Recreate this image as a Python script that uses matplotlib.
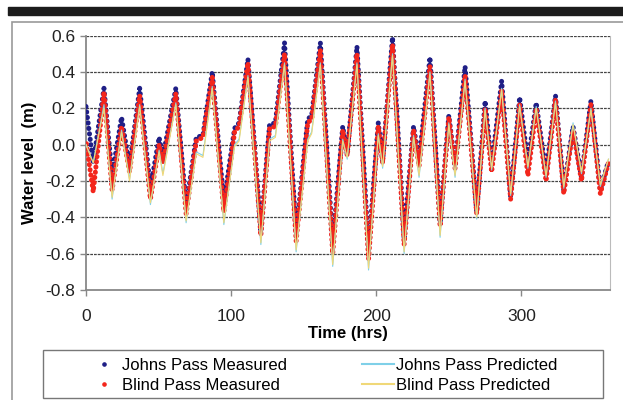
import numpy as np
import matplotlib
matplotlib.use("Agg")
import matplotlib.pyplot as plt
from matplotlib.patches import Rectangle
from matplotlib.lines import Line2D

plt.rcParams['font.family'] = 'Liberation Sans'
plt.rcParams['axes.unicode_minus'] = False

# tide turning points (hrs)
t_hrs = [0, 5, 12.4, 18, 24.5, 30, 37, 44.4, 50.4, 53, 61.9, 69, 76, 80.6, 87, 95,
         102.4, 105.5, 111.6, 120.5, 126.5, 130.5, 136.8, 144.8, 152.8, 155.5, 161.5,
         170, 176.9, 180, 186.7, 194.7, 201.4, 204.4, 211.2, 219.2, 225.7, 229.5, 237,
         244, 250, 254.3, 261.2, 269.2, 275, 279.5, 286.4, 292.6, 298.8, 304.5, 310.2,
         317, 323.5, 329.2, 335.6, 341.4, 347.9, 354.4, 360]

johns_meas = [0.21, -0.10, 0.31, -0.17, 0.15, -0.12, 0.31, -0.24, 0.04, -0.07, 0.31, -0.34,
              0.04, 0.05, 0.40, -0.32, 0.09, 0.12, 0.47, -0.47, 0.11, 0.12, 0.56, -0.49,
              0.14, 0.16, 0.56, -0.55, 0.10, -0.05, 0.54, -0.58, 0.12, -0.09, 0.59, -0.51,
              0.10, -0.09, 0.48, -0.43, 0.16, -0.12, 0.43, -0.37, 0.24, -0.12, 0.35, -0.29,
              0.26, -0.10, 0.23, -0.16, 0.27, -0.25, 0.10, -0.18, 0.24, -0.25, -0.09]

blind_meas = [0.02, -0.26, 0.29, -0.25, 0.10, -0.15, 0.27, -0.30, 0.00, -0.10, 0.28, -0.38,
              0.02, 0.04, 0.37, -0.37, 0.07, 0.10, 0.45, -0.50, 0.09, 0.10, 0.50, -0.53,
              0.12, 0.14, 0.52, -0.60, 0.08, -0.06, 0.50, -0.63, 0.10, -0.10, 0.55, -0.55,
              0.08, -0.12, 0.43, -0.45, 0.15, -0.13, 0.38, -0.38, 0.20, -0.15, 0.30, -0.30,
              0.22, -0.17, 0.20, -0.20, 0.25, -0.27, 0.08, -0.20, 0.22, -0.27, -0.10]

johns_pred = [0.00, -0.10, 0.22, -0.30, 0.08, -0.19, 0.22, -0.33, -0.03, -0.16, 0.23, -0.43,
              -0.04, -0.06, 0.32, -0.44, 0.00, 0.03, 0.38, -0.55, 0.03, 0.05, 0.45, -0.59,
              0.03, 0.07, 0.45, -0.67, 0.03, -0.08, 0.45, -0.69, 0.06, -0.13, 0.50, -0.60,
              0.05, -0.18, 0.40, -0.51, 0.12, -0.18, 0.36, -0.41, 0.20, -0.14, 0.31, -0.28,
              0.22, -0.13, 0.21, -0.18, 0.24, -0.24, 0.12, -0.16, 0.20, -0.23, -0.08]

blind_pred = [0.00, -0.10, 0.20, -0.29, 0.07, -0.20, 0.21, -0.32, -0.04, -0.17, 0.22, -0.42,
              -0.05, -0.07, 0.31, -0.43, -0.01, 0.02, 0.37, -0.54, 0.02, 0.04, 0.44, -0.58,
              0.02, 0.06, 0.44, -0.66, 0.02, -0.07, 0.44, -0.68, 0.05, -0.12, 0.49, -0.59,
              0.04, -0.17, 0.39, -0.50, 0.11, -0.17, 0.35, -0.40, 0.19, -0.13, 0.30, -0.27,
              0.21, -0.12, 0.20, -0.17, 0.23, -0.23, 0.11, -0.15, 0.19, -0.22, -0.08]

labels = ['Johns Pass Measured', 'Blind Pass Measured', 'Johns Pass Predicted', 'Blind Pass Predicted']
c_navy = '#1f1f86'
c_red = '#f3261c'
c_cyan = '#7fd0e8'
c_yell = '#f0d878'

fig = plt.figure(figsize=(6.23, 4.0), dpi=100)
ax = fig.add_axes([0.138, 0.275, 0.841, 0.636])

# measured series as dense round dots along the record
ax.plot(t_hrs, johns_meas, color=c_navy, lw=3.6, ls=(0, (0.05, 1.05)),
        dash_capstyle='round', zorder=3)
ax.plot(t_hrs, blind_meas, color=c_red, lw=3.6, ls=(0.5, (0.05, 1.0)),
        dash_capstyle='round', zorder=4)
ax.plot(t_hrs, johns_pred, color=c_cyan, lw=0.8, zorder=5)
ax.plot(t_hrs, blind_pred, color=c_yell, lw=0.8, zorder=6)

ax.set_xlim(0, 361)
ax.set_ylim(-0.8, 0.6)
ax.set_xticks([0, 100, 200, 300])
ax.set_yticks(np.round(np.arange(-0.8, 0.61, 0.2), 1))
ax.set_yticklabels(['%.1f' % v for v in np.round(np.arange(-0.8, 0.61, 0.2), 1) + 0.0])
ax.tick_params(labelsize=12.5, colors='#222222', length=4, width=1)
ax.tick_params(axis='both', color='#888888')
ax.tick_params(axis='x', pad=10)

for g in np.arange(-0.6, 0.61, 0.2):
    ax.axhline(g, color='#444444', lw=0.9, ls=(0, (2.2, 0.8)), zorder=1)

ax.spines['top'].set_visible(False)
ax.spines['left'].set_color('#888888')
ax.spines['bottom'].set_color('#888888')
ax.spines['right'].set_color('#bbbbbb')
for s in ['left', 'bottom']:
    ax.spines[s].set_linewidth(1.3)

ax.set_xlabel('Time (hrs)', fontsize=12, fontweight='bold', labelpad=1)
ax.set_ylabel('Water level  (m)', fontsize=12, fontweight='bold', labelpad=6)

# black bar and frame around the figure
fig.patches.append(Rectangle((8 / 623, 1 - 15 / 400), 1, 8 / 400,
                             transform=fig.transFigure, color='#1c1c1c', zorder=0))
fig.patches.append(Rectangle((12 / 623, -0.05), 1, 1 - 22 / 400 + 0.05, fill=False,
                             transform=fig.transFigure, edgecolor='#999999', lw=1.2))
fig.patches.append(Rectangle((43 / 623, 1 - 398 / 400), 560 / 623, 48 / 400, fill=False,
                             transform=fig.transFigure, edgecolor='#777777', lw=1.0))

handles = [Line2D([], [], ls='none', marker='o', ms=2.3, color=c_navy),
           Line2D([], [], ls='none', marker='o', ms=2.3, color=c_red),
           Line2D([], [], color=c_cyan, lw=1.5),
           Line2D([], [], color=c_yell, lw=1.5)]
fig.legend(handles, labels, loc='center', bbox_to_anchor=(323 / 623, 1 - 375 / 400),
           ncol=2, frameon=False, fontsize=12, handlelength=1.9, handletextpad=0.15,
           columnspacing=4.5, labelspacing=0.3)

fig.savefig('out.png', dpi=100)
